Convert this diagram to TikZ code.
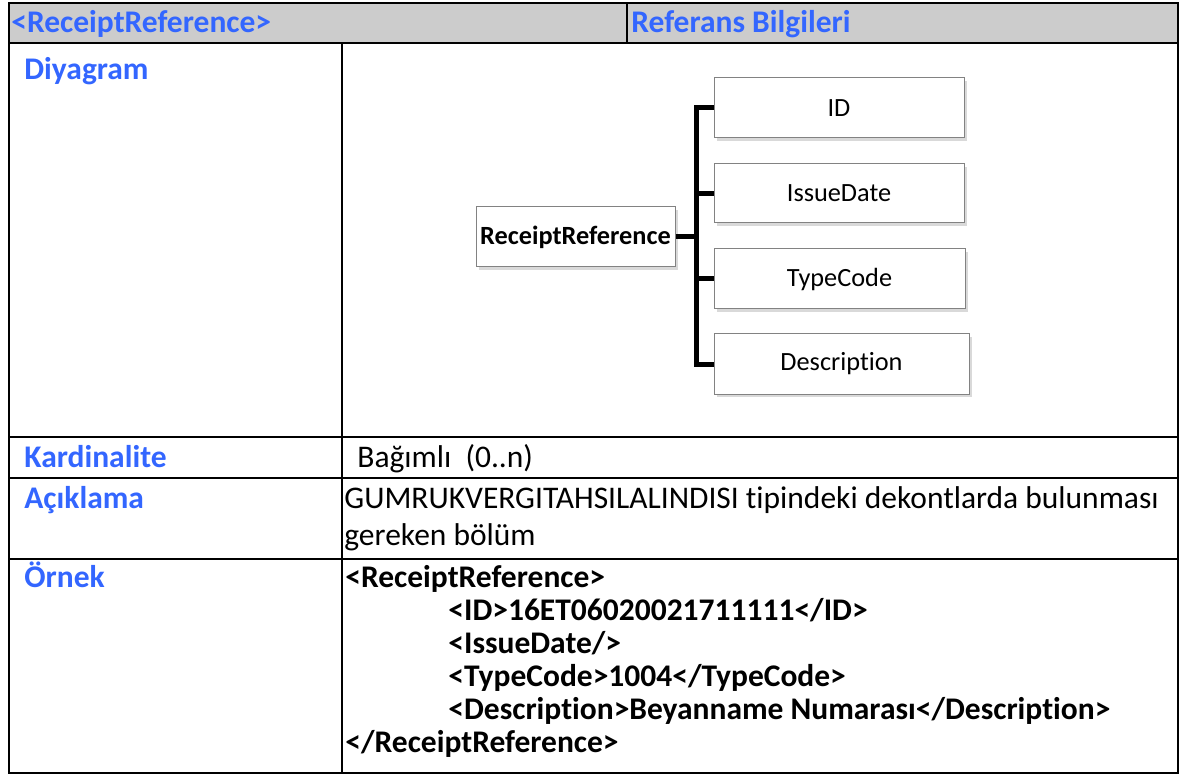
\documentclass[tikz,border=0pt]{standalone}
\usepackage{fontspec}
\setmainfont{Carlito}[Ligatures=NoCommon]
\usetikzlibrary{shadows}
\definecolor{hblue}{RGB}{51,102,255}
\definecolor{hgray}{RGB}{204,204,204}
\definecolor{bxgray}{RGB}{130,130,130}
\begin{document}
\begin{tikzpicture}[x=0.5pt,y=-0.5pt,
  grid/.style={line width=1.3pt},
  lbl/.style={anchor=base west,inner sep=0,font=\fontsize{15.75}{18}\selectfont\bfseries,text=hblue},
  txt/.style={anchor=base west,inner sep=0,font=\fontsize{15.75}{18}\selectfont},
  xml/.style={anchor=base west,inner sep=0,font=\fontsize{15.75}{18}\selectfont\bfseries},
  elem/.style={draw=bxgray,line width=0.5pt,fill=white,minimum width=125pt,minimum height=30pt,inner sep=0,
    font=\fontsize{13.15}{15}\selectfont,
    drop shadow={shadow xshift=1.3pt,shadow yshift=-1.3pt,opacity=0.3}},
  conn/.style={line width=2.5pt,line join=miter}]
\useasboundingbox (0,0) rectangle (1189,775);
% header
\fill[hgray] (9,3) rectangle (1178,43);
% grid lines
\draw[grid] (627,3) -- (627,43);
\draw[grid] (9,43) -- (1178,43);
\draw[grid] (9,437) -- (1178,437);
\draw[grid] (9,478) -- (1178,478);
\draw[grid] (9,559) -- (1178,559);
\draw[grid] (342,43) -- (342,773);
\draw[grid] (9,3) rectangle (1178,773);
% header texts
\node[lbl] (h1) at (11,33) {<ReceiptReference>};
\node[lbl] (h2) at (631,33) {Referans Bilgileri};
% row labels
\node[lbl] (l1) at (24,80) {Diyagram};
\node[lbl] (l2) at (24,467) {Kardinalite};
\node[lbl] (l3) at (24,508) {Açıklama};
\node[lbl] (l4) at (24,587) {Örnek};
% values
\node[txt] (v1) at (357,467) {Bağımlı\ \ (0..n)};
\node[txt] (v2) at (344,508) {GUMRUKVERGITAHSILALINDISI tipindeki dekontlarda bulunması};
\node[txt] (v3) at (344,545) {gereken bölüm};
\node[xml] (x1) at (345,587) {<ReceiptReference>};
\node[xml] (x2) at (448,620) {<ID>16ET06020021711111</ID>};
\node[xml] (x3) at (448,653) {<IssueDate/>};
\node[xml] (x4) at (448,686) {<TypeCode>1004</TypeCode>};
\node[xml] (x5) at (448,719) {<Description>Beyanname Numarası</Description>};
\node[xml] (x6) at (345,752) {</ReceiptReference>};
% diagram
\node[elem,minimum width=99.5pt,font=\fontsize{13.15}{15}\selectfont\bfseries] (root) at (575.5,237) {ReceiptReference};
\node[elem] (id) at (839,108) {ID};
\node[elem,minimum height=29.5pt] (issue) at (839,193.5) {IssueDate};
\node[elem,minimum width=125.5pt] (type) at (839.5,279) {TypeCode};
\node[elem,minimum width=127.5pt] (desc) at (841.5,364) {Description};
\coordinate (j) at (696,237);
\draw[conn] (root.east) -- (j);
\draw[conn] (id.west) -| (j) |- (desc.west);
\draw[conn] (issue.west) -- (issue.west -| j);
\draw[conn] (type.west) -- (type.west -| j);
\end{tikzpicture}
\end{document}
